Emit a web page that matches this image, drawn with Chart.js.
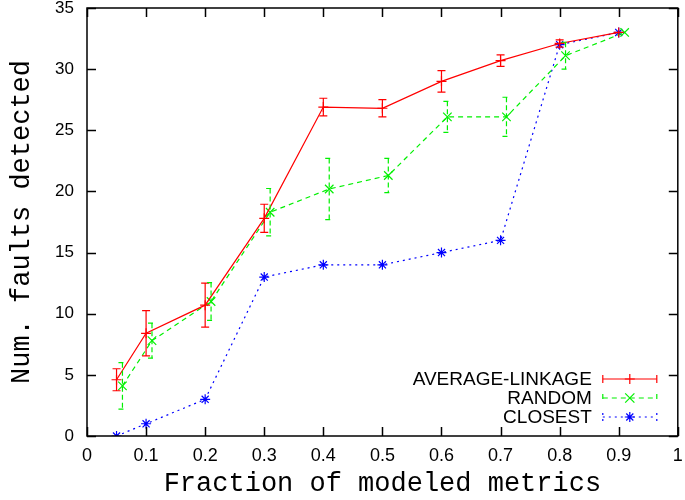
<!DOCTYPE html>
<html>
<head>
<meta charset="utf-8">
<script src="https://cdn.jsdelivr.net/npm/chart.js@4"></script>
<style>
  html, body { margin: 0; padding: 0; background: #fff; }
  #wrap { width: 685px; height: 500px; }
</style>
</head>
<body>
<div id="wrap"><canvas id="chart"></canvas></div>
<script>
// values
const fractions = [0.05, 0.1, 0.2, 0.3, 0.4, 0.5, 0.6, 0.7, 0.8, 0.9];
const randomFractions = [0.06, 0.11, 0.21, 0.31, 0.41, 0.51, 0.61, 0.71, 0.81, 0.91];

const avgLinkage = [4.6, 8.4, 10.7, 17.8, 26.9, 26.8, 29.0, 30.7, 32.1, 33.0];
const avgLinkageErr = [0.9, 1.85, 1.8, 1.15, 0.72, 0.7, 0.88, 0.47, 0.3, 0];

const random = [4.1, 7.8, 11.0, 18.3, 20.2, 21.3, 26.1, 26.1, 31.1, 33.0];
const randomErr = [1.9, 1.43, 1.55, 1.94, 2.5, 1.4, 1.27, 1.6, 1.1, 0];

const closest = [0, 1, 3, 13, 14, 14, 15, 16, 32, 33];

const xTicks = [0, 0.1, 0.2, 0.3, 0.4, 0.5, 0.6, 0.7, 0.8, 0.9, 1];
const yTicks = [0, 5, 10, 15, 20, 25, 30, 35];

const seriesNames = ["AVERAGE-LINKAGE", "RANDOM", "CLOSEST"];

function toPoints(xs, ys) {
  return xs.map((x, i) => ({ x: x, y: ys[i] }));
}

const RED = "#ff0000";
const GREEN = "#00f000";
const BLUE = "#0000ff";
const SANS = "'Liberation Sans', Arial, sans-serif";
const MONO = "'Liberation Mono', 'Courier New', monospace";

// error bars drawn through the chart scales
const errorBars = {
  id: "errorBars",
  afterDatasetsDraw(chart) {
    const ctx = chart.ctx;
    const xs = chart.scales.x;
    const ys = chart.scales.y;
    chart.data.datasets.forEach((ds) => {
      if (!ds.errors) return;
      ctx.save();
      ctx.strokeStyle = ds.borderColor;
      ctx.lineWidth = 1.2;
      ctx.setLineDash(ds.barDash || []);
      ds.data.forEach((p, i) => {
        const e = ds.errors[i];
        if (!e) return;
        const px = xs.getPixelForValue(p.x);
        const top = ys.getPixelForValue(p.y + e);
        const bot = ys.getPixelForValue(p.y - e);
        ctx.beginPath();
        ctx.moveTo(px, top);
        ctx.lineTo(px, bot);
        ctx.moveTo(px - 4, top);
        ctx.lineTo(px + 4, top);
        ctx.moveTo(px - 4, bot);
        ctx.lineTo(px + 4, bot);
        ctx.stroke();
      });
      ctx.restore();
    });
  },
};

// gnuplot-like frame with inward ticks + key
const frame = {
  id: "frame",
  afterDraw(chart) {
    const ctx = chart.ctx;
    const a = chart.chartArea;
    const xs = chart.scales.x;
    const ys = chart.scales.y;
    ctx.save();
    ctx.strokeStyle = "#000";
    ctx.lineWidth = 1.5;
    ctx.strokeRect(a.left, a.top, a.right - a.left, a.bottom - a.top);
    ctx.beginPath();
    xTicks.forEach((t) => {
      const px = Math.round(xs.getPixelForValue(t)) + 0.5;
      ctx.moveTo(px, a.bottom);
      ctx.lineTo(px, a.bottom - 9);
      ctx.moveTo(px, a.top);
      ctx.lineTo(px, a.top + 9);
    });
    yTicks.forEach((t) => {
      const py = Math.round(ys.getPixelForValue(t)) + 0.5;
      ctx.moveTo(a.left, py);
      ctx.lineTo(a.left + 9, py);
      ctx.moveTo(a.right, py);
      ctx.lineTo(a.right - 9, py);
    });
    ctx.stroke();

    // key
    ctx.font = "19px " + SANS;
    ctx.textAlign = "right";
    ctx.textBaseline = "middle";
    const textRight = a.right - 86;
    const x1 = a.right - 75;
    const x2 = a.right - 21;
    const xm = (x1 + x2) / 2;
    chart.data.datasets.forEach((ds, i) => {
      const y = a.bottom - 57 + i * 19;
      ctx.fillStyle = "#000";
      ctx.fillText(seriesNames[i], textRight, y + 1);
      ctx.strokeStyle = ds.borderColor;
      ctx.lineWidth = 1.2;
      ctx.setLineDash(ds.borderDash || []);
      ctx.beginPath();
      ctx.moveTo(x1, y);
      ctx.lineTo(x2, y);
      ctx.stroke();
      ctx.setLineDash(ds.barDash || []);
      ctx.beginPath();
      ctx.moveTo(x1, y - 4);
      ctx.lineTo(x1, y + 4);
      ctx.moveTo(x2, y - 4);
      ctx.lineTo(x2, y + 4);
      ctx.stroke();
      ctx.setLineDash([]);
      drawMarker(ctx, ds.pointStyle, xm, y, 5);
    });
    ctx.restore();
  },
};

function drawMarker(ctx, style, x, y, r) {
  ctx.beginPath();
  if (style === "cross" || style === "star") {
    ctx.moveTo(x - r, y);
    ctx.lineTo(x + r, y);
    ctx.moveTo(x, y - r);
    ctx.lineTo(x, y + r);
  }
  if (style === "crossRot" || style === "star") {
    const d = r * 0.707 * (style === "crossRot" ? 1.3 : 1);
    ctx.moveTo(x - d, y - d);
    ctx.lineTo(x + d, y + d);
    ctx.moveTo(x - d, y + d);
    ctx.lineTo(x + d, y - d);
  }
  ctx.stroke();
}

new Chart(document.getElementById("chart").getContext("2d"), {
  type: "line",
  data: {
    datasets: [
      {
        label: seriesNames[0],
        data: toPoints(fractions, avgLinkage),
        errors: avgLinkageErr,
        borderColor: RED,
        backgroundColor: RED,
        borderWidth: 1.2,
        pointStyle: "cross",
        pointRadius: 5,
        pointBorderWidth: 1.2,
      },
      {
        label: seriesNames[1],
        data: toPoints(randomFractions, random),
        errors: randomErr,
        barDash: [5, 3],
        borderColor: GREEN,
        backgroundColor: GREEN,
        borderWidth: 1.2,
        borderDash: [5, 4],
        pointStyle: "crossRot",
        pointRadius: 6,
        pointBorderWidth: 1.2,
      },
      {
        label: seriesNames[2],
        data: toPoints(fractions, closest),
        borderColor: BLUE,
        backgroundColor: BLUE,
        borderWidth: 1.2,
        borderDash: [2, 4],
        barDash: [2, 4],
        pointStyle: "star",
        pointRadius: 5,
        pointBorderWidth: 1.2,
      },
    ],
  },
  options: {
    responsive: true,
    maintainAspectRatio: false,
    animation: false,
    layout: { padding: { top: 8, right: 3, left: 0, bottom: 0 } },
    plugins: {
      legend: { display: false },
      tooltip: { enabled: false },
    },
    scales: {
      x: {
        type: "linear",
        min: 0,
        max: 1,
        grid: { display: false, drawTicks: false },
        border: { display: false },
        afterBuildTicks(scale) {
          scale.ticks = xTicks.map((v) => ({ value: v }));
        },
        afterFit(scale) {
          scale.height = 64;
          scale.paddingLeft = 0;
          scale.paddingRight = 0;
        },
        ticks: {
          color: "#000",
          padding: 9,
          maxRotation: 0,
          autoSkip: false,
          font: { family: SANS, size: 18 },
          callback: (v) => String(v),
        },
        title: {
          display: true,
          text: "Fraction of modeled metrics",
          color: "#000",
          padding: { top: 0, bottom: 0 },
          font: { family: MONO, size: 27 },
        },
      },
      y: {
        type: "linear",
        min: 0,
        max: 35,
        grid: { display: false, drawTicks: false },
        border: { display: false },
        afterBuildTicks(scale) {
          scale.ticks = yTicks.map((v) => ({ value: v }));
        },
        afterFit(scale) {
          scale.width = 87;
          scale.paddingTop = 0;
          scale.paddingBottom = 0;
        },
        ticks: {
          color: "#000",
          padding: 13,
          font: { family: SANS, size: 17 },
        },
        title: {
          display: true,
          text: "Num. faults detected",
          color: "#000",
          padding: { top: 6, bottom: 0 },
          font: { family: MONO, size: 27 },
        },
      },
    },
  },
  plugins: [errorBars, frame],
});
</script>
</body>
</html>
